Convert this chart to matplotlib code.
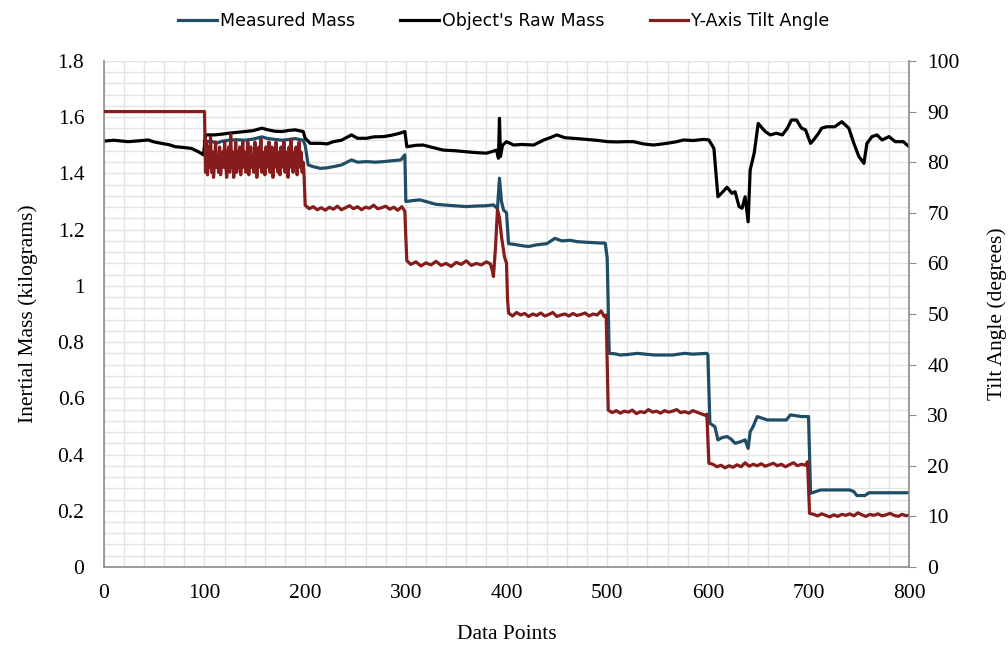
import matplotlib
matplotlib.use("Agg")
import matplotlib.pyplot as plt
from matplotlib.ticker import MultipleLocator, FuncFormatter

# Object's raw mass (kg)
raw_x = [0, 10, 24, 35, 44, 50, 57, 65, 71, 80, 87, 94, 99, 101, 110, 118, 124, 132, 140,
         148, 157, 163, 170, 177, 184, 190, 198, 200, 205, 215, 222, 228, 236, 246, 252,
         261, 268, 278, 286, 294, 299, 301, 310, 317, 327, 337, 348, 360, 370, 380, 386,
         390, 392, 393, 394, 396, 400, 407, 415, 427, 437, 444, 450, 458, 466, 476, 486,
         494, 500, 510, 518, 526, 536, 546, 553, 559, 568, 576, 585, 596, 601, 606, 610,
         615, 619, 624, 627, 631, 634, 637, 640, 642, 646, 650, 654, 657, 662, 668, 674,
         679, 683, 688, 693, 697, 702, 705, 710, 713, 718, 726, 733, 740, 745, 750, 755,
         758, 763, 768, 773, 780, 786, 794, 800]
raw_mass = [1.515, 1.518, 1.513, 1.516, 1.519, 1.512, 1.507, 1.502, 1.495, 1.492, 1.489,
            1.477, 1.466, 1.537, 1.537, 1.540, 1.543, 1.546, 1.549, 1.552, 1.561, 1.555,
            1.550, 1.549, 1.553, 1.555, 1.549, 1.525, 1.507, 1.507, 1.505, 1.513, 1.518,
            1.537, 1.525, 1.525, 1.530, 1.531, 1.536, 1.543, 1.549, 1.495, 1.500, 1.501,
            1.492, 1.483, 1.481, 1.477, 1.474, 1.472, 1.478, 1.483, 1.454, 1.596, 1.460,
            1.500, 1.513, 1.501, 1.503, 1.501, 1.519, 1.528, 1.537, 1.527, 1.525, 1.522,
            1.519, 1.516, 1.513, 1.512, 1.513, 1.513, 1.505, 1.501, 1.504, 1.507, 1.512,
            1.519, 1.517, 1.521, 1.519, 1.489, 1.317, 1.335, 1.351, 1.329, 1.335, 1.282,
            1.276, 1.317, 1.228, 1.412, 1.472, 1.578, 1.561, 1.549, 1.537, 1.543, 1.537,
            1.561, 1.590, 1.590, 1.561, 1.555, 1.507, 1.519, 1.543, 1.561, 1.566, 1.566,
            1.584, 1.561, 1.507, 1.460, 1.436, 1.507, 1.531, 1.537, 1.519, 1.531, 1.513,
            1.513, 1.495]

# Measured mass (kg)
mm_x = [100, 106, 112, 118, 124, 132, 140, 148, 157, 163, 170, 177, 184, 190, 198, 200,
        203, 208, 215, 222, 228, 236, 246, 252, 261, 270, 278, 286, 295, 299, 300, 306,
        314, 322, 330, 337, 348, 360, 370, 380, 387, 391, 393, 395, 397, 400, 402, 407,
        415, 422, 430, 440, 448, 455, 463, 471, 480, 490, 498, 500, 502, 508, 513, 521,
        530, 538, 547, 554, 565, 577, 585, 599, 600, 602, 607, 610, 614, 619, 623, 627,
        632, 637, 640, 642, 645, 649, 659, 668, 678, 682, 693, 700, 701, 702, 712, 720,
        741, 745, 748, 756, 760, 800]
measured_mass = [1.513, 1.515, 1.508, 1.515, 1.518, 1.520, 1.518, 1.522, 1.530, 1.524,
                 1.521, 1.518, 1.521, 1.524, 1.518, 1.500, 1.430, 1.424, 1.418, 1.420,
                 1.424, 1.430, 1.448, 1.440, 1.442, 1.440, 1.442, 1.445, 1.448, 1.466,
                 1.300, 1.303, 1.306, 1.298, 1.290, 1.288, 1.285, 1.282, 1.284, 1.285,
                 1.288, 1.275, 1.383, 1.300, 1.270, 1.260, 1.150, 1.148, 1.143, 1.140,
                 1.146, 1.150, 1.169, 1.160, 1.162, 1.157, 1.155, 1.153, 1.152, 1.100,
                 0.760, 0.758, 0.754, 0.756, 0.760, 0.757, 0.754, 0.754, 0.754, 0.760,
                 0.757, 0.760, 0.755, 0.511, 0.499, 0.452, 0.460, 0.464, 0.455, 0.440,
                 0.445, 0.452, 0.422, 0.481, 0.500, 0.535, 0.523, 0.523, 0.523, 0.541,
                 0.535, 0.535, 0.400, 0.262, 0.274, 0.274, 0.274, 0.268, 0.254, 0.254,
                 0.264, 0.264]

# Y-axis tilt angle (degrees): level start, dense noisy block 100-200, then steps
tilt_x = ([0, 99] + list(range(100, 200)) +
          [200, 204, 208, 212, 216, 220, 224, 228, 232, 236,
           240, 244, 248, 252, 256, 260, 264, 268, 272, 276, 280, 284, 288, 292, 296, 299,
           300, 301, 305, 310, 315, 320, 325, 330, 335, 340, 345, 350, 355, 360, 365, 370,
           375, 380, 384, 386, 387, 389, 391, 393, 395, 398, 400, 401, 402, 406, 410, 414,
           418, 422, 426, 430, 434, 438, 442, 446, 450, 454, 458, 462, 466, 470, 474, 478,
           482, 486, 490, 494, 497, 499, 500, 501, 505, 509, 513, 517, 521, 525, 529, 533,
           537, 541, 545, 549, 553, 557, 561, 565, 569, 573, 577, 581, 585, 589, 593, 597,
           599, 601, 605, 609, 613, 617, 621, 625, 629, 633, 637, 641, 645, 649, 653, 657,
           661, 665, 669, 673, 677, 681, 685, 689, 693, 697, 699, 701, 705, 709, 713, 717,
           721, 725, 729, 733, 737, 741, 745, 749, 753, 757, 761, 765, 769, 773, 777, 781,
           785, 789, 793, 797, 800])
tilt_angle = ([90, 90] +
              [90, 78, 84, 77.5, 83, 79, 85, 78, 82, 77, 80, 84, 79, 81, 78, 83, 77.5, 80,
               82, 79, 84, 80, 77, 81, 83, 78, 85.5, 79, 82, 77, 80, 84, 78, 82, 79, 83,
               77.5, 81, 84, 79, 82, 78, 80, 84, 77.5, 81, 83, 79, 80, 78, 84, 82, 77, 81,
               83, 79, 84.5, 78, 80, 82, 77.5, 83, 79, 81, 84, 78, 80, 83, 77, 82, 79, 84,
               80, 78, 82, 77.5, 83, 79, 81, 84, 78, 82, 80, 77, 83, 79, 84.5, 80, 78, 82,
               79, 83, 77.5, 81, 84, 79, 82, 78, 80, 77] +
              [71.5, 70.8, 71.2, 70.6, 71.0, 70.5, 71.1, 70.7, 71.3, 70.6, 71.0, 71.4, 70.8,
               71.2, 70.6, 71.1, 70.9, 71.5, 70.8, 71.0, 71.3, 70.7, 71.1, 70.5, 71.2, 70.3,
               65, 60.5, 59.8, 60.3, 59.5, 60.1, 59.7, 60.4, 59.6, 60.0, 59.4, 60.2, 59.8,
               60.5, 59.6, 60.0, 59.7, 60.3, 59.9, 58.5, 57.4, 63, 70.6, 69, 65.3, 61.3, 60,
               53, 50.2, 49.6, 50.3, 49.8, 50.1, 49.5, 50.0, 49.7, 50.2, 49.6, 49.9, 50.3,
               49.5, 49.8, 50.0, 49.6, 50.1, 49.7, 49.9, 50.2, 49.6, 50.0, 49.8, 50.6, 49.5,
               49.8, 40, 31.0, 30.5, 30.9, 30.4, 30.8, 30.6, 31.0, 30.3, 30.7, 30.5, 31.1,
               30.6, 30.8, 30.4, 30.9, 30.6, 30.8, 31.1, 30.5, 30.7, 30.4, 30.9, 30.6, 30.3,
               30.0, 30.2, 20.5, 20.3, 19.8, 20.1, 19.6, 20.0, 19.7, 20.2, 19.8, 20.6, 19.9,
               20.3, 20.0, 20.4, 19.9, 20.2, 20.5, 20.0, 20.3, 19.8, 20.2, 20.6, 20.0, 20.3,
               20.1, 20.8, 10.6, 10.4, 10.1, 10.5, 10.2, 9.9, 10.3, 10.0, 10.4, 10.2, 10.5,
               10.1, 10.7, 10.3, 10.0, 10.4, 10.2, 10.5, 10.1, 10.3, 10.6, 10.2, 10.0, 10.4,
               10.1, 10.3])

serif = "Liberation Serif"
narrow = ["Liberation Sans Narrow", "DejaVu Sans"]

fig = plt.figure(figsize=(10.08, 6.55), dpi=100)
ax = fig.add_axes([0.103, 0.1344, 0.799, 0.7725])
ax2 = ax.twinx()

l1, = ax.plot(mm_x, measured_mass, color="#1F4D66", lw=2.3, label="Measured Mass")
l2, = ax.plot(raw_x, raw_mass, color="black", lw=2.3, label="Object's Raw Mass")
l3, = ax2.plot(tilt_x, tilt_angle, color="#861C1C", lw=2.3, label="Y-Axis Tilt Angle")

ax.set_xlim(0, 800)
ax.set_ylim(0, 1.8)
ax2.set_ylim(0, 100)

ax.xaxis.set_major_locator(MultipleLocator(100))
ax.xaxis.set_minor_locator(MultipleLocator(20))
ax.yaxis.set_major_locator(MultipleLocator(0.2))
ax.yaxis.set_minor_locator(MultipleLocator(0.04))
ax2.yaxis.set_major_locator(MultipleLocator(10))
ax.yaxis.set_major_formatter(FuncFormatter(lambda v, p: f"{v:g}"))

ax.grid(True, which="both", color="#E3E3E3", lw=1.0)
ax.set_axisbelow(True)

for a in (ax, ax2):
    for s in a.spines.values():
        s.set_visible(False)
ax.spines["left"].set_visible(True)
ax.spines["bottom"].set_visible(True)
ax2.spines["right"].set_visible(True)
for s in (ax.spines["left"], ax.spines["bottom"], ax2.spines["right"]):
    s.set_color("#8C8C8C")
    s.set_linewidth(1.2)

ax.tick_params(which="both", length=0)
ax.tick_params(axis="y", pad=14, labelsize=15.5, labelfontfamily=serif)
ax.tick_params(axis="x", pad=12, labelsize=15.5, labelfontfamily=serif)
ax2.tick_params(axis="y", length=5, color="#8C8C8C", pad=8, labelsize=15.5,
                labelfontfamily=serif)

ax.set_xlabel("Data Points", fontsize=15.5, family=serif, labelpad=16)
ax.set_ylabel("Inertial Mass (kilograms)", fontsize=15.5, family=serif, labelpad=14)
ax2.set_ylabel("Tilt Angle (degrees)", fontsize=15.5, family=serif, labelpad=20)

fig.legend(handles=[l1, l2, l3], loc="center", bbox_to_anchor=(0.5, 0.968), ncol=3,
           frameon=False, prop={"family": narrow, "size": 12.5}, handlelength=2.2,
           columnspacing=2.6, handletextpad=0.2)

fig.savefig("out.png", dpi=100)
